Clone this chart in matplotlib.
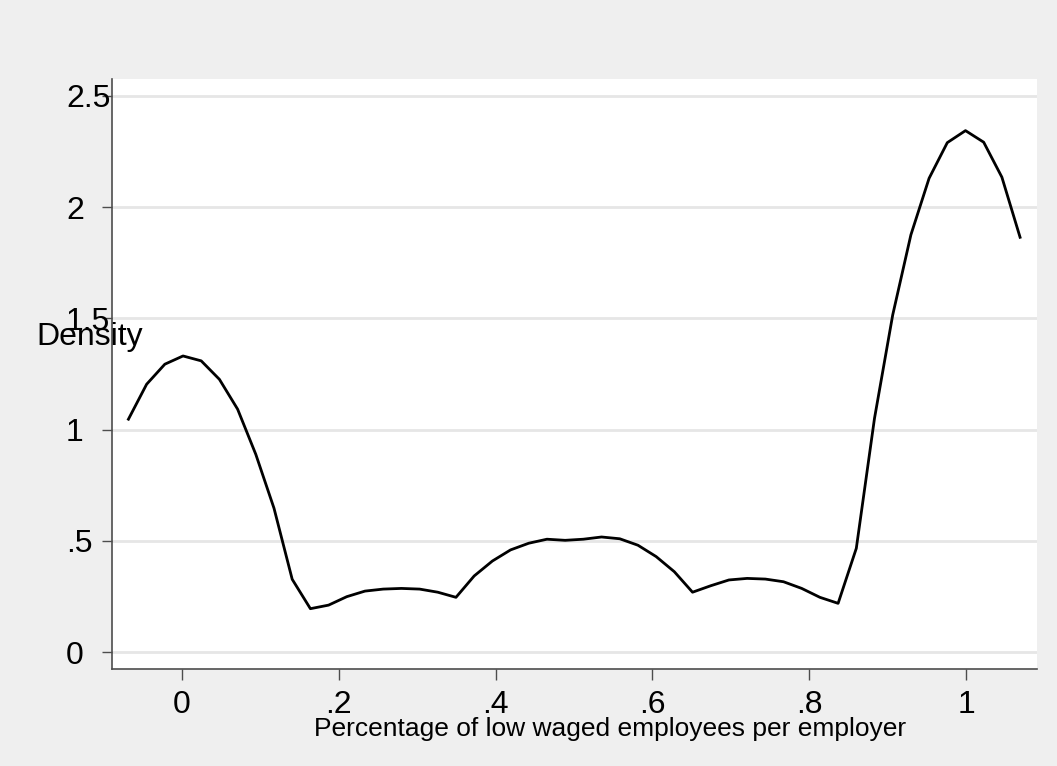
import matplotlib.pyplot as plt

plt.rcParams['font.family'] = ['Liberation Sans', 'DejaVu Sans']

# kernel density evaluated on a 50-point grid
share_low_wage = [-0.068, -0.0448, -0.0216, 0.0016, 0.0248, 0.048, 0.0712, 0.0944, 0.1176, 0.1408,
                  0.164, 0.1872, 0.2104, 0.2336, 0.2568, 0.28, 0.3032, 0.3264, 0.3496, 0.3728,
                  0.396, 0.4192, 0.4424, 0.4656, 0.4888, 0.512, 0.5352, 0.5584, 0.5816, 0.6048,
                  0.628, 0.6512, 0.6744, 0.6976, 0.7208, 0.744, 0.7672, 0.7904, 0.8136, 0.8368,
                  0.86, 0.8832, 0.9064, 0.9296, 0.9528, 0.976, 0.9992, 1.0224, 1.0456, 1.0688]
density = [1.047, 1.204, 1.294, 1.331, 1.309, 1.226, 1.092, 0.889, 0.647, 0.328,
           0.196, 0.212, 0.250, 0.275, 0.284, 0.287, 0.284, 0.270, 0.247, 0.343,
           0.410, 0.460, 0.490, 0.508, 0.503, 0.508, 0.518, 0.510, 0.481, 0.430,
           0.362, 0.270, 0.299, 0.325, 0.332, 0.329, 0.317, 0.287, 0.247, 0.220,
           0.467, 1.051, 1.515, 1.875, 2.129, 2.289, 2.343, 2.291, 2.134, 1.864]

xticks = [0, 0.2, 0.4, 0.6, 0.8, 1]
xticklabels = ['0', '.2', '.4', '.6', '.8', '1']
yticks = [0, 0.5, 1, 1.5, 2, 2.5]
yticklabels = ['0', '.5', '1', '1.5', '2', '2.5']

bg = '#EFEFEF'
fig = plt.figure(figsize=(10.57, 7.66), dpi=100, facecolor=bg)
ax = fig.add_axes([0.1057, 0.1266, 0.8751, 0.7703])
ax.set_facecolor('white')

ax.plot(share_low_wage, density, color='black', lw=2.0, zorder=3)

ax.set_xlim(-0.0893, 1.090)
ax.set_ylim(-0.075, 2.575)

ax.set_xticks(xticks)
ax.set_xticklabels(xticklabels)
ax.set_yticks(yticks)
ax.set_yticklabels(yticklabels)

for y in yticks:
    ax.axhline(y, color='#E6E6E6', lw=2.0, zorder=1)

for side in ['top', 'right']:
    ax.spines[side].set_visible(False)
for side in ['left', 'bottom']:
    ax.spines[side].set_color('#4D4D4D')
    ax.spines[side].set_linewidth(1.2)

ax.tick_params(axis='x', direction='out', length=8, width=1.0, color='#4D4D4D',
               labelsize=23, pad=7)
ax.tick_params(axis='y', direction='out', length=7, width=1.0, color='#4D4D4D',
               labelsize=23, pad=26)
for lab in ax.get_yticklabels():
    lab.set_horizontalalignment('left')

# axis titles placed the way Stata puts them
fig.text(36.7 / 1057, 1 - 345 / 766, 'Density', fontsize=23, va='baseline', ha='left')
fig.text(610 / 1057, 1 - 736 / 766, 'Percentage of low waged employees per employer',
         fontsize=19, va='baseline', ha='center')

fig.savefig('out.png', dpi=100, facecolor=bg)
